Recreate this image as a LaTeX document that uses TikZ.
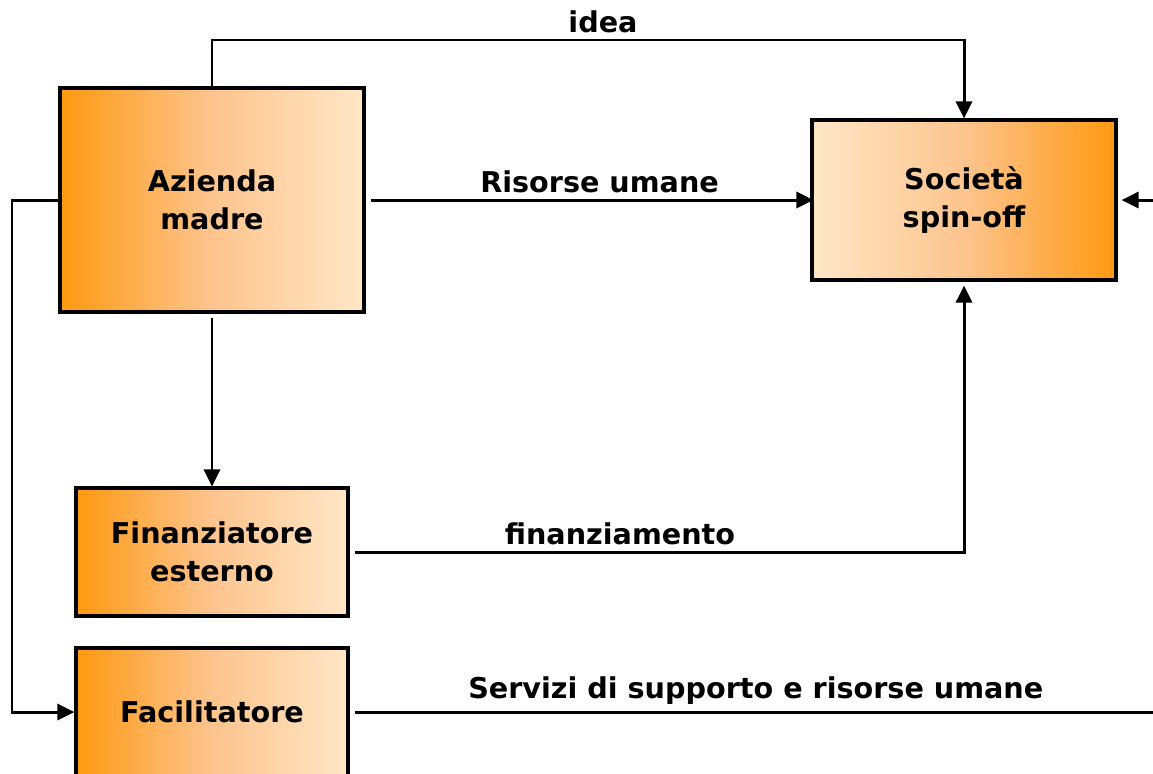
\documentclass[tikz,border=0pt]{standalone}
\usepackage{fontspec}
\setmainfont{DejaVu Sans}
\usetikzlibrary{arrows.meta}
\definecolor{darkorange}{HTML}{FF9912}
\definecolor{paleorange}{HTML}{FFE7C6}
\definecolor{midorange}{HTML}{FDC48E}

\begin{document}
\begin{tikzpicture}[->,>={Triangle[length=3.4mm,width=3.2mm]},line width=1.7pt,
  font=\fontsize{16.3}{21.5}\selectfont\bfseries,
  box node/.style={rectangle,draw,line width=1.8pt,align=center,inner sep=0pt},
  left fade/.style={left color=darkorange,right color=paleorange,middle color=midorange},
  right fade/.style={left color=paleorange,right color=darkorange,middle color=midorange}]

 \useasboundingbox (-4.24,4.0) rectangle (18.82,-11.46);

 \node[box node,left fade,minimum width=6.08cm,minimum height=4.48cm] (azienda) at (0,0) {Azienda\\madre};
 \node[box node,right fade,minimum width=6.08cm,minimum height=3.2cm] (spinoff) [node distance=15.04cm,right of=azienda] {Società\\spin-off};
 \node[box node,left fade,minimum width=5.44cm,minimum height=2.56cm] (finanz) [node distance=7.04cm,below of=azienda] {Finanziatore\\esterno};
 \node[box node,left fade,minimum width=5.44cm,minimum height=2.56cm] (facil) [node distance=3.2cm,below of=finanz] {Facilitatore};

 \coordinate (ideatop) at (0,3.2);
 \coordinate (farright) at (19,0);
 \coordinate (farleft) at (-4.0,0);

 \draw (azienda.north) -- (ideatop) -| node[above,pos=0.26] {idea} (spinoff.north);
 \draw[shorten <=0.1cm,shorten >=-0.06cm] (azienda.east) -- node[above,pos=0.526] {Risorse umane} (spinoff.west);
 \draw[shorten <=0.08cm] (azienda.south) -- (finanz.north);
 \draw (azienda.west) -- (farleft) |- (facil.west);
 \draw[shorten <=0.1cm,shorten >=0.08cm] (finanz.east) -| node[above,pos=0.22] {finanziamento} (spinoff.south);
 \draw[shorten <=0.1cm,shorten >=0.08cm] (facil.east) -- node[above] {Servizi di supporto e risorse umane} (facil.east -| farright) |- (spinoff.east);

\end{tikzpicture}
\end{document}
